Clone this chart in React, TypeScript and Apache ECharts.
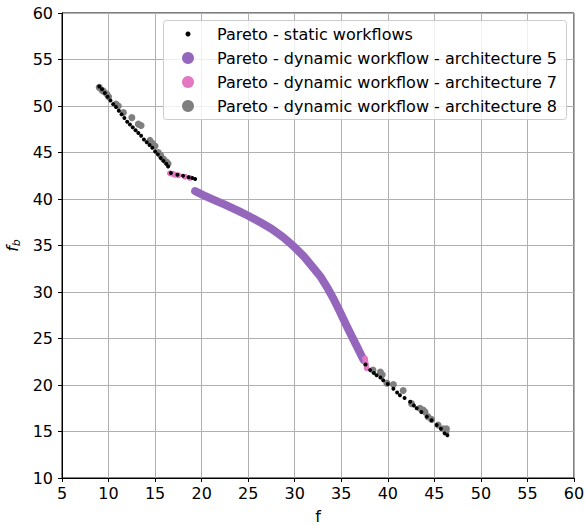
import React, { useEffect, useRef } from "react";
import * as echarts from "echarts";

const xTicks = [5, 60, 5]; // min, max, interval
const yTicks = [10, 60, 5];

const seriesNames = [
  "Pareto - static workflows",
  "Pareto - dynamic workflow - architecture 5",
  "Pareto - dynamic workflow - architecture 7",
  "Pareto - dynamic workflow - architecture 8",
];

const staticPts: [number, number][] = [
  [9.0, 52.1], [9.3, 51.8], [9.6, 51.4], [9.9, 51.0], [10.2, 50.6], [10.5, 50.2], [10.8, 49.9],
  [11.1, 49.5], [11.4, 49.1], [11.7, 48.7], [12.0, 48.3], [12.3, 48.0], [12.6, 47.7], [12.9, 47.4],
  [13.2, 47.1], [13.5, 46.8], [13.8, 46.4], [14.1, 46.1], [14.4, 45.8], [14.7, 45.5], [15.0, 45.1],
  [15.3, 44.8], [15.6, 44.4], [15.9, 44.1], [16.2, 43.8], [16.4, 43.5], [16.7, 42.8], [17.4, 42.6],
  [18.0, 42.5], [18.6, 42.35], [19.0, 42.25], [19.3, 42.15],
  [37.6, 22.2],
  [38.1, 21.6], [38.5, 21.3], [38.8, 21.05], [39.2, 20.8], [39.5, 20.5], [40.0, 20.1], [40.6, 19.6],
  [41.0, 19.2], [41.3, 18.9], [41.8, 18.6], [42.4, 18.2], [42.8, 17.8], [43.1, 17.5], [43.6, 17.1],
  [44.2, 16.6], [44.7, 16.2], [45.25, 15.7], [45.7, 15.3], [46.1, 14.8], [46.4, 14.6],
];

const arch5Pts: [number, number][] = [
  [19.3, 40.85], [20.0, 40.5], [21.0, 40.05], [22.5, 39.4], [24.0, 38.7], [25.0, 38.2], [26.3, 37.5],
  [27.5, 36.8], [28.8, 35.85], [30.0, 34.8], [31.0, 33.8], [32.0, 32.6], [32.8, 31.6], [33.6, 30.3],
  [34.2, 29.2], [34.7, 28.2], [35.2, 27.15], [35.6, 26.3], [36.1, 25.3], [36.5, 24.5], [36.9, 23.7],
  [37.2, 23.1], [37.4, 22.7],
];

const arch7Pts: [number, number][] = [
  [16.6, 42.76], [16.9, 42.7], [17.14, 42.6], [17.5, 42.55], [18.2, 42.4], [18.75, 42.26],
  [37.55, 22.85], [37.6, 22.5], [37.65, 22.2], [37.73, 21.8],
];

const arch8Pts: [number, number][] = [
  [9.0, 52.0], [9.3, 51.7], [9.44, 51.6], [9.8, 51.3], [10.0, 51.0], [10.8, 50.2], [11.05, 50.0],
  [11.6, 49.3], [12.5, 48.75], [13.2, 48.05], [13.5, 47.9], [14.45, 46.3], [14.7, 46.0], [15.0, 45.7],
  [15.35, 45.0], [15.6, 44.7], [15.9, 44.3], [16.2, 44.0], [16.4, 43.8],
  [38.4, 21.6], [39.2, 21.4], [39.4, 21.1], [39.9, 20.2], [40.6, 20.05], [41.65, 19.4], [42.55, 18.0],
  [43.45, 17.5], [43.8, 17.3], [44.0, 17.1], [44.3, 16.6], [44.7, 16.3], [45.4, 15.7], [45.95, 15.3],
  [46.25, 15.0], [46.3, 15.3],
];

const colors = ["#000000", "#9467bd", "#e377c2", "#7f7f7f"];
const legendMarkerRadius = [2.5, 6, 6, 6];
const FONT = "DejaVu Sans";

export default function App() {
  const ref = useRef<HTMLDivElement>(null);
  useEffect(() => {
    if (!ref.current) return;
    const chart = echarts.init(ref.current, undefined, { renderer: "svg" });
    const gridColor = "#b0b0b0";

    const legendElements: any[] = [
      {
        type: "rect",
        shape: { x: 163.5, y: 20.5, width: 403, height: 99, r: 3 },
        style: { fill: "rgba(255,255,255,0.8)", stroke: "#cccccc", lineWidth: 1 },
        z: 100,
      },
    ];
    seriesNames.forEach((name, i) => {
      const cy = 34 + i * 24;
      legendElements.push({
        type: "circle",
        shape: { cx: 188, cy, r: legendMarkerRadius[i] },
        style: { fill: colors[i] },
        z: 101,
      });
      legendElements.push({
        type: "text",
        x: 217,
        y: cy,
        style: {
          text: name,
          fill: "#000",
          font: `16px "${FONT}"`,
          verticalAlign: "middle",
          align: "left",
        },
        z: 101,
      });
    });

    chart.setOption({
      animation: false,
      backgroundColor: "#ffffff",
      grid: {
        left: 62,
        right: 11,
        top: 13,
        bottom: 48,
        containLabel: false,
        outerBoundsMode: "none",
        show: true,
        borderColor: "#000",
        borderWidth: 1,
        backgroundColor: "transparent",
      },
      graphic: legendElements,
      xAxis: {
        type: "value",
        min: xTicks[0],
        max: xTicks[1],
        interval: xTicks[2],
        name: "f",
        nameLocation: "middle",
        nameGap: 30,
        nameTextStyle: { fontFamily: FONT, fontSize: 16, color: "#000" },
        axisLine: { show: true, onZero: false, lineStyle: { color: "#000", width: 1 } },
        axisTick: { show: true, length: 4, lineStyle: { color: "#000" } },
        axisLabel: { fontFamily: FONT, fontSize: 16, color: "#000", margin: 7 },
        splitLine: { show: true, lineStyle: { color: gridColor, width: 1 } },
      },
      yAxis: {
        type: "value",
        min: yTicks[0],
        max: yTicks[1],
        interval: yTicks[2],
        name: "{a|f}{b|b}",
        nameLocation: "middle",
        nameGap: 36,
        nameRotate: 90,
        nameTextStyle: {
          color: "#000",
          rich: {
            a: { fontFamily: FONT, fontSize: 16, fontStyle: "italic", color: "#000" },
            b: {
              fontFamily: FONT,
              fontSize: 11,
              fontStyle: "italic",
              color: "#000",
              padding: [8, 0, 0, 0],
            },
          },
        },
        axisLine: { show: true, onZero: false, lineStyle: { color: "#000", width: 1 } },
        axisTick: { show: true, length: 4, lineStyle: { color: "#000" } },
        axisLabel: { fontFamily: FONT, fontSize: 16, color: "#000", margin: 9 },
        splitLine: { show: true, lineStyle: { color: gridColor, width: 1 } },
      },
      series: [
        {
          name: seriesNames[1],
          type: "line",
          data: arch5Pts,
          showSymbol: false,
          smooth: false,
          color: colors[1],
          lineStyle: { color: colors[1], width: 8, cap: "round", join: "round" },
          z: 2,
        },
        {
          name: seriesNames[2],
          type: "scatter",
          data: arch7Pts,
          symbolSize: 6,
          itemStyle: { color: colors[2], opacity: 1 },
          z: 3,
        },
        {
          name: seriesNames[3],
          type: "scatter",
          data: arch8Pts,
          symbolSize: 7,
          itemStyle: { color: colors[3], opacity: 1 },
          z: 4,
        },
        {
          name: seriesNames[0],
          type: "scatter",
          data: staticPts,
          symbolSize: 4,
          itemStyle: { color: colors[0], opacity: 1 },
          z: 5,
        },
      ],
    });
    return () => chart.dispose();
  }, []);
  return (
    <div
      ref={ref}
      style={{ position: "fixed", left: 0, top: 0, width: 585, height: 526 }}
    />
  );
}
